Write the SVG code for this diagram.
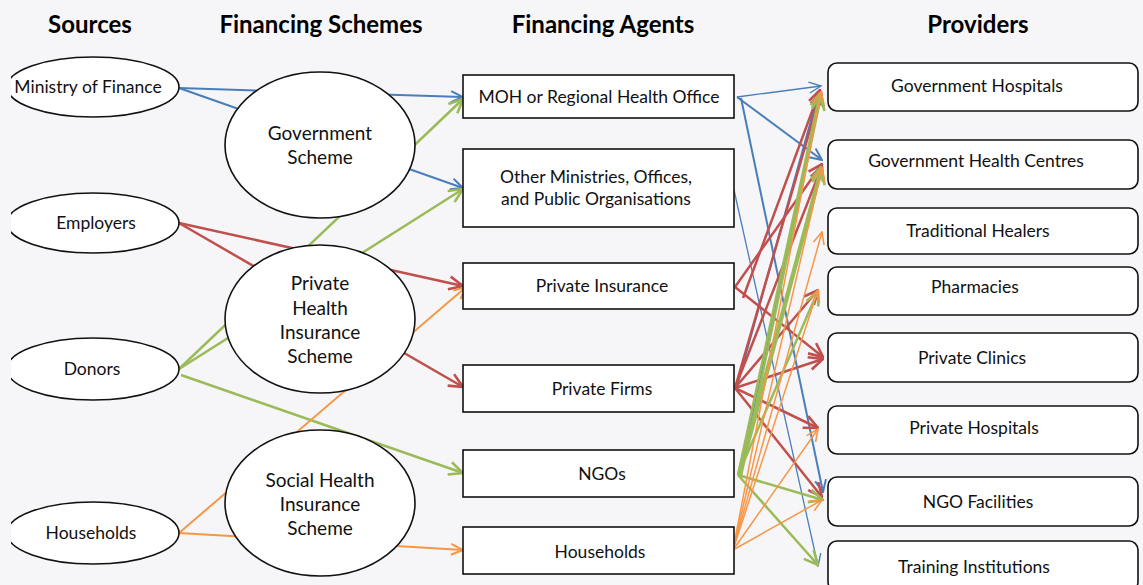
<svg xmlns="http://www.w3.org/2000/svg" width="1143" height="585" viewBox="0 0 1143 585">
<style>
.bg{fill:#f6f6f9}
.title{font-family:Lato,"Liberation Sans",sans-serif;font-weight:bold;font-size:24px;fill:#000;text-anchor:middle}
.lbl{font-family:Lato,"Liberation Sans",sans-serif;font-size:17.5px;fill:#111;text-anchor:middle}
.sch{font-family:Lato,"Liberation Sans",sans-serif;font-size:19px;fill:#111;text-anchor:middle}
.node{fill:#fff;stroke:#111;stroke-width:1.6}
.pnode{fill:#fff;stroke:#111;stroke-width:1.6}
.b{stroke:#4a7ebb;stroke-width:2;fill:none;marker-end:url(#mb)}
.bt{stroke:#4a7ebb;stroke-width:1.3;fill:none;marker-end:url(#mbt)}
.bn{stroke:#4a7ebb;stroke-width:2;fill:none}
.r{stroke:#c0504d;stroke-width:2.5;fill:none;marker-end:url(#mr)}
.g{stroke:#9bbb59;stroke-width:2.5;fill:none;marker-end:url(#mg)}
.o{stroke:#f79646;stroke-width:1.5;fill:none;marker-end:url(#mo)}
.o2{stroke:#f79646;stroke-width:2;fill:none;marker-end:url(#mo2)}
</style>
<defs>
<clipPath id="clipL"><rect x="11" y="0" width="1132" height="585"/></clipPath>
<marker id="mb" viewBox="0 0 14 14" refX="13" refY="7" markerWidth="14" markerHeight="14" orient="auto" markerUnits="userSpaceOnUse"><path d="M1,1.5 L13,7 L1,12.5" fill="none" stroke="#4a7ebb" stroke-width="2"/></marker>
<marker id="mbt" viewBox="0 0 14 14" refX="13" refY="7" markerWidth="14" markerHeight="14" orient="auto" markerUnits="userSpaceOnUse"><path d="M1,1.5 L13,7 L1,12.5" fill="none" stroke="#4a7ebb" stroke-width="1.4"/></marker>
<marker id="mr" viewBox="0 0 16 16" refX="15" refY="8" markerWidth="16" markerHeight="16" orient="auto" markerUnits="userSpaceOnUse"><path d="M1,1.5 L15,8 L1,14.5" fill="none" stroke="#c0504d" stroke-width="2.6"/></marker>
<marker id="mg" viewBox="0 0 16 16" refX="15" refY="8" markerWidth="16" markerHeight="16" orient="auto" markerUnits="userSpaceOnUse"><path d="M1,1.5 L15,8 L1,14.5" fill="none" stroke="#9bbb59" stroke-width="2.6"/></marker>
<marker id="mo" viewBox="0 0 14 14" refX="13" refY="7" markerWidth="14" markerHeight="14" orient="auto" markerUnits="userSpaceOnUse"><path d="M1,1.5 L13,7 L1,12.5" fill="none" stroke="#f79646" stroke-width="1.6"/></marker>
<marker id="mo2" viewBox="0 0 14 14" refX="13" refY="7" markerWidth="14" markerHeight="14" orient="auto" markerUnits="userSpaceOnUse"><path d="M1,1.5 L13,7 L1,12.5" fill="none" stroke="#f79646" stroke-width="2"/></marker>
</defs>
<rect class="bg" x="0" y="0" width="1143" height="585"/>

<g id="titles">
<text class="title" x="90" y="33">Sources</text>
<text class="title" x="321" y="33">Financing Schemes</text>
<text class="title" x="603" y="33">Financing Agents</text>
<text class="title" x="978" y="33">Providers</text>
</g>

<g id="connectors">
<line class="b" x1="179" y1="88" x2="463" y2="97"/>
<line class="b" x1="179" y1="88" x2="463" y2="188"/>
<line class="r" x1="179" y1="223" x2="463" y2="286"/>
<line class="r" x1="179" y1="223" x2="463" y2="387"/>
<line class="g" x1="179" y1="369" x2="463" y2="99"/>
<line class="g" x1="179" y1="369" x2="463" y2="189"/>
<line class="g" x1="181" y1="375" x2="463" y2="473"/>
<line class="o2" x1="179" y1="533" x2="466" y2="287"/>
<line class="o2" x1="179" y1="533" x2="463" y2="550"/>
<line class="bt" x1="737" y1="97" x2="821" y2="86"/>
<line class="b" x1="737" y1="97" x2="822" y2="160"/>
<line class="b" x1="741" y1="98" x2="823" y2="492"/>
<line class="bt" x1="734" y1="190" x2="818" y2="566"/>
<line class="bn" x1="737" y1="386" x2="819" y2="92"/>
<line class="bn" x1="740" y1="475" x2="821" y2="94"/>
<line class="r" x1="743" y1="298" x2="820" y2="90"/>
<line class="r" x1="735" y1="287" x2="822" y2="164"/>
<line class="r" x1="735" y1="287" x2="823" y2="357"/>
<line class="r" x1="735" y1="388" x2="821" y2="92"/>
<line class="r" x1="735" y1="388" x2="822" y2="166"/>
<line class="r" x1="735" y1="388" x2="818" y2="290"/>
<line class="r" x1="735" y1="388" x2="823" y2="359"/>
<line class="r" x1="735" y1="388" x2="818" y2="428"/>
<line class="r" x1="735" y1="388" x2="822" y2="497"/>
<line class="g" x1="738" y1="475" x2="820" y2="93"/>
<line class="g" x1="741" y1="476" x2="821" y2="96"/>
<line class="g" x1="738" y1="475" x2="821" y2="167"/>
<line class="g" x1="740" y1="476" x2="822" y2="170"/>
<line class="g" x1="738" y1="475" x2="818" y2="291"/>
<line class="g" x1="738" y1="475" x2="823" y2="500"/>
<line class="g" x1="738" y1="475" x2="818" y2="565"/>
<line class="o" x1="733" y1="550" x2="821" y2="92"/>
<line class="o" x1="733" y1="550" x2="822" y2="168"/>
<line class="o" x1="733" y1="550" x2="822" y2="232"/>
<line class="o" x1="733" y1="550" x2="818" y2="290"/>
<line class="o" x1="733" y1="550" x2="818" y2="429"/>
<line class="o" x1="733" y1="550" x2="822" y2="500"/>
</g>

<g id="src-mof" clip-path="url(#clipL)">
<ellipse class="node" cx="93" cy="87" rx="86" ry="30"/>
<text class="lbl" x="88" y="93">Ministry of Finance</text>
</g>
<g id="src-employers" clip-path="url(#clipL)">
<ellipse class="node" cx="93" cy="223" rx="86" ry="30"/>
<text class="lbl" x="96" y="229">Employers</text>
</g>
<g id="src-donors" clip-path="url(#clipL)">
<ellipse class="node" cx="93" cy="369" rx="86" ry="31"/>
<text class="lbl" x="92" y="375">Donors</text>
</g>
<g id="src-households" clip-path="url(#clipL)">
<ellipse class="node" cx="93" cy="533" rx="86" ry="31"/>
<text class="lbl" x="91" y="539">Households</text>
</g>

<g id="sch-gov">
<ellipse class="node" cx="320" cy="145" rx="95" ry="73"/>
<text class="sch" x="320" y="140">Government</text>
<text class="sch" x="320" y="164">Scheme</text>
</g>
<g id="sch-phi">
<ellipse class="node" cx="320" cy="319" rx="95" ry="74"/>
<text class="sch" x="320" y="290">Private</text>
<text class="sch" x="320" y="315">Health</text>
<text class="sch" x="320" y="339">Insurance</text>
<text class="sch" x="320" y="363">Scheme</text>
</g>
<g id="sch-shi">
<ellipse class="node" cx="320" cy="503" rx="95" ry="73"/>
<text class="sch" x="320" y="487">Social Health</text>
<text class="sch" x="320" y="511">Insurance</text>
<text class="sch" x="320" y="535">Scheme</text>
</g>

<g id="ag-moh">
<rect class="node" x="463" y="75" width="271" height="43"/>
<text class="lbl" x="599" y="103">MOH or Regional Health Office</text>
</g>
<g id="ag-other">
<rect class="node" x="463" y="149" width="271" height="78"/>
<text class="lbl" x="596" y="183">Other Ministries, Offices,</text>
<text class="lbl" x="596" y="205">and Public Organisations</text>
</g>
<g id="ag-pi">
<rect class="node" x="463" y="263" width="271" height="46"/>
<text class="lbl" x="602" y="292">Private Insurance</text>
</g>
<g id="ag-pf">
<rect class="node" x="463" y="365" width="271" height="47"/>
<text class="lbl" x="602" y="395">Private Firms</text>
</g>
<g id="ag-ngo">
<rect class="node" x="463" y="450" width="271" height="47"/>
<text class="lbl" x="602" y="480">NGOs</text>
</g>
<g id="ag-hh">
<rect class="node" x="463" y="527" width="271" height="47"/>
<text class="lbl" x="600" y="558">Households</text>
</g>

<g id="pr-gh">
<rect class="pnode" x="828" y="63" width="310" height="48" rx="9"/>
<text class="lbl" x="977" y="92">Government Hospitals</text>
</g>
<g id="pr-ghc">
<rect class="pnode" x="828" y="140" width="310" height="49" rx="9"/>
<text class="lbl" x="976" y="167">Government Health Centres</text>
</g>
<g id="pr-th">
<rect class="pnode" x="828" y="208" width="310" height="46" rx="9"/>
<text class="lbl" x="978" y="237">Traditional Healers</text>
</g>
<g id="pr-ph">
<rect class="pnode" x="828" y="267" width="310" height="48" rx="9"/>
<text class="lbl" x="975" y="293">Pharmacies</text>
</g>
<g id="pr-pc">
<rect class="pnode" x="828" y="333" width="310" height="49" rx="9"/>
<text class="lbl" x="972" y="364">Private Clinics</text>
</g>
<g id="pr-phos">
<rect class="pnode" x="828" y="406" width="310" height="48" rx="9"/>
<text class="lbl" x="974" y="434">Private Hospitals</text>
</g>
<g id="pr-ngof">
<rect class="pnode" x="828" y="477" width="310" height="49" rx="9"/>
<text class="lbl" x="978" y="508">NGO Facilities</text>
</g>
<g id="pr-ti">
<rect class="pnode" x="828" y="541" width="310" height="50" rx="9"/>
<text class="lbl" x="974" y="573">Training Institutions</text>
</g>
</svg>
